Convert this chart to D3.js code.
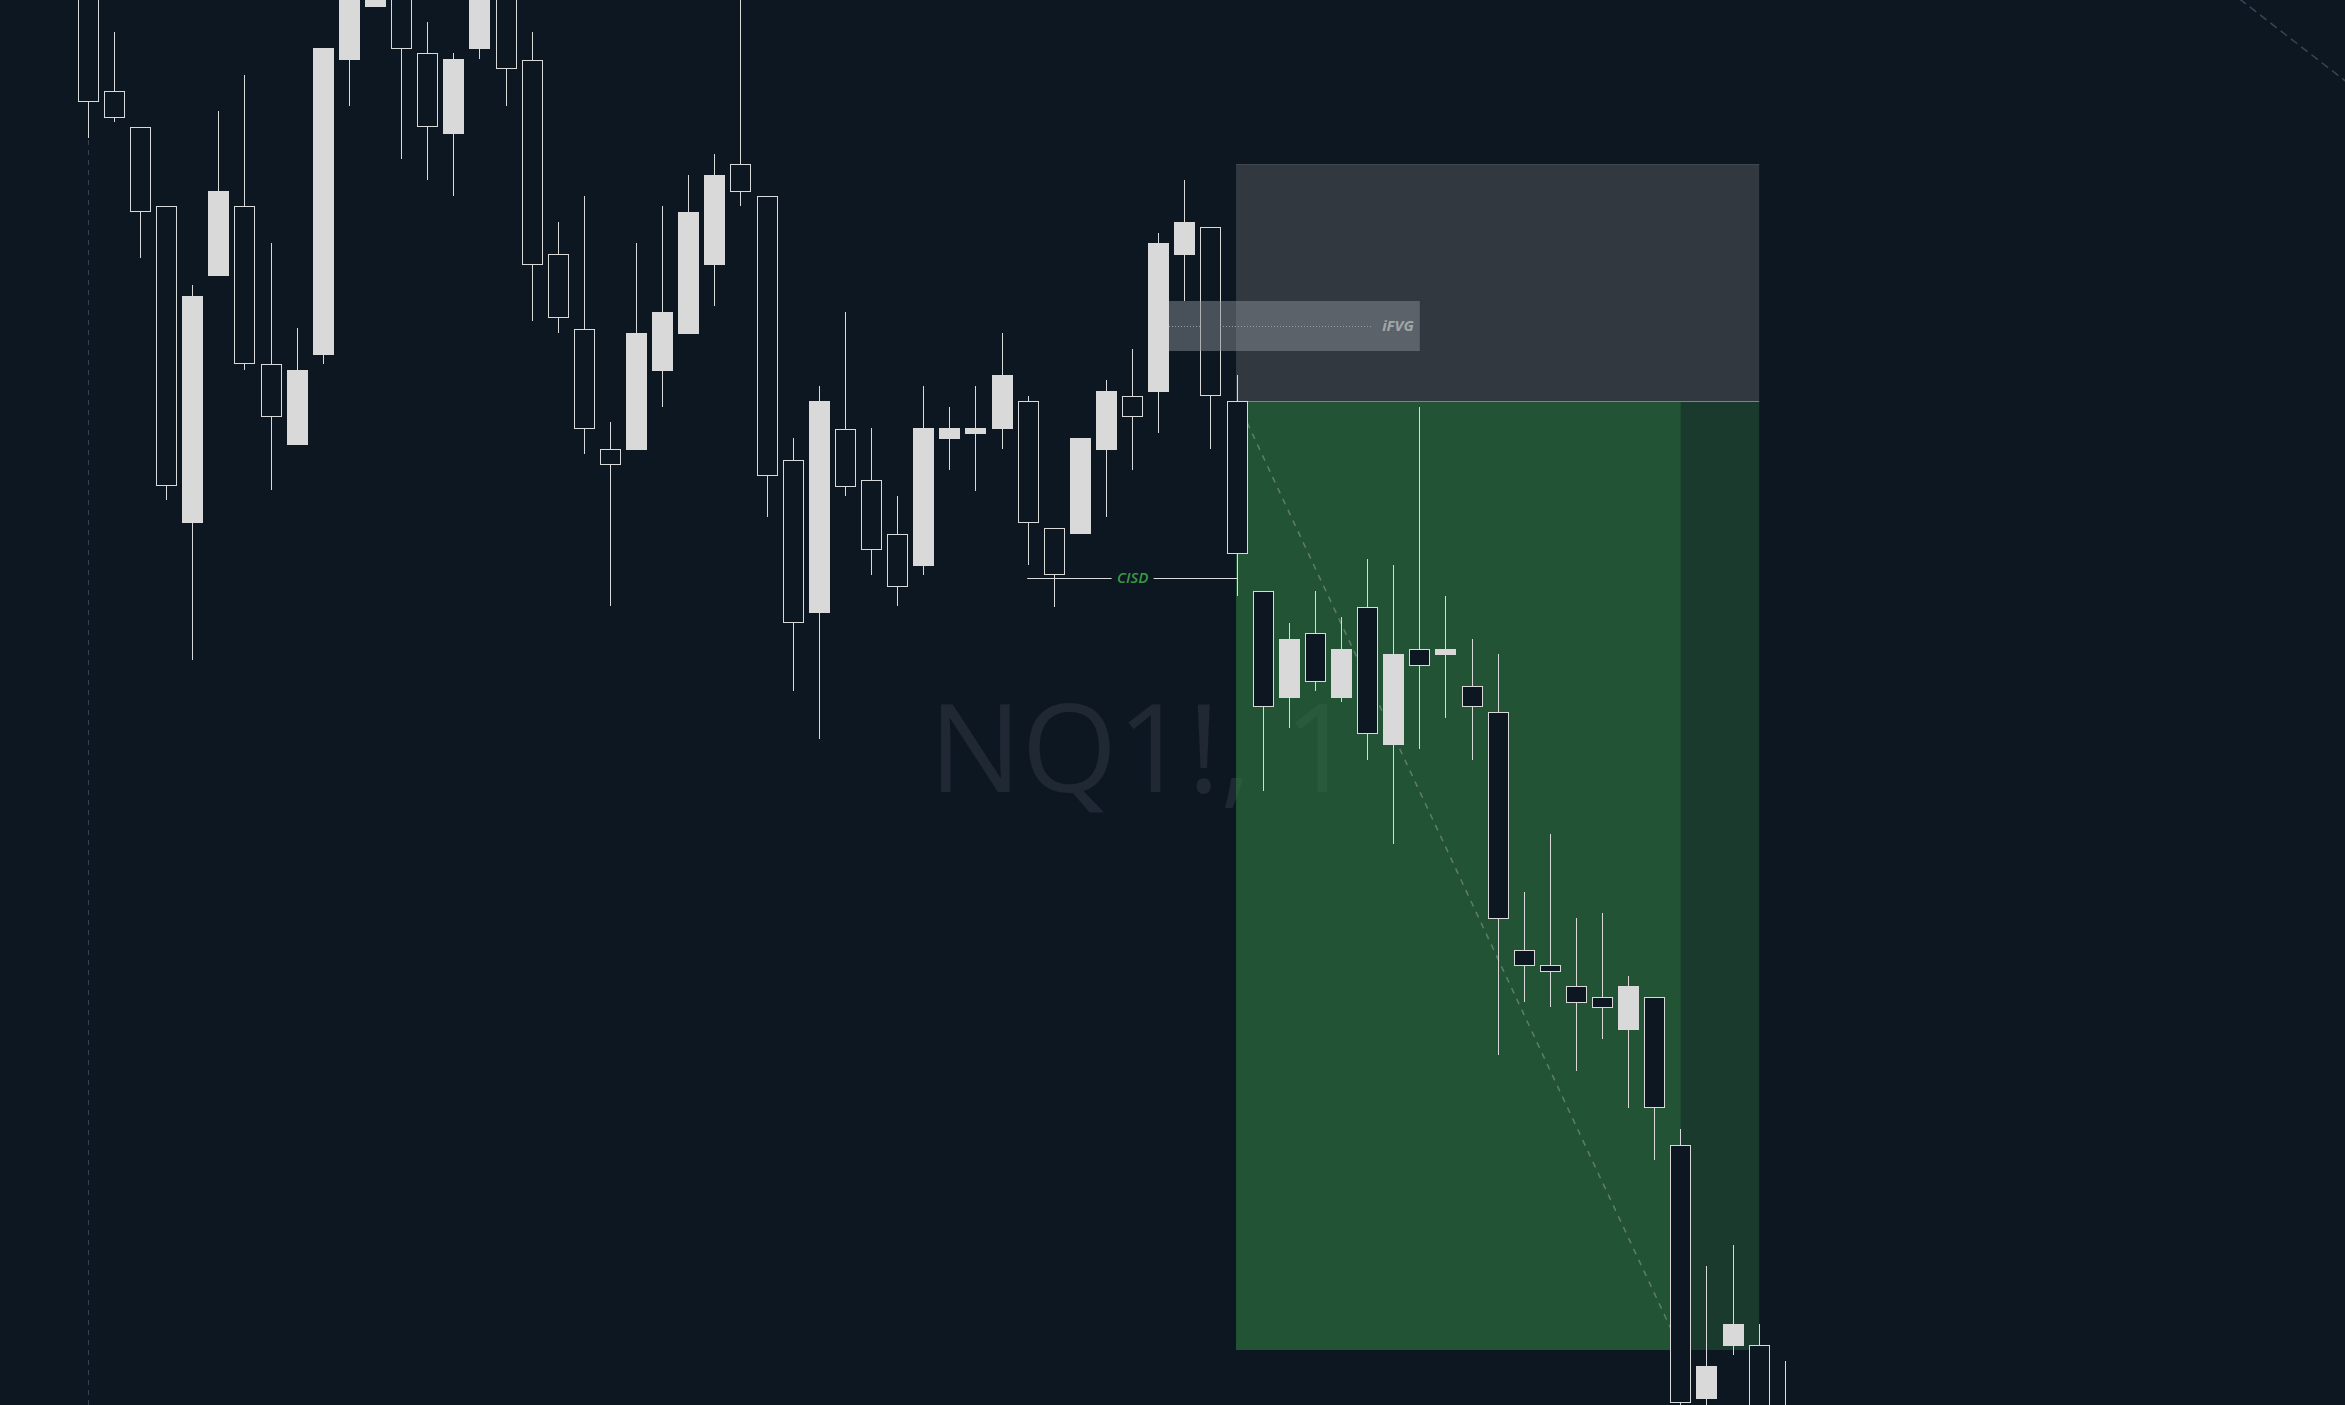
<!DOCTYPE html>
<html>
<head>
<meta charset="utf-8">
<script src="https://cdn.jsdelivr.net/npm/d3@7"></script>
<style>
  html, body { margin: 0; padding: 0; background: #0c1722; overflow: hidden; }
  svg { display: block; }
</style>
</head>
<body>
<div id="chart"></div>
<script>
// ---------------- DATA ----------------
const symbolLabel = "NQ1!, 1";
const barIndex = d3.range(66);
const opens = [21505, 21477.25, 21468.25, 21448.5, 21369.25, 21431, 21448.5, 21409, 21388.75, 21411.25,
  21485, 21498.25, 21505, 21486.75, 21466.5, 21487.75, 21502.5, 21485, 21436.5, 21417.75,
  21387.75, 21387.5, 21407.25, 21416.5, 21433.75, 21459, 21451, 21385, 21346.75, 21392.75,
  21380, 21366.5, 21358.5, 21390.25, 21391.5, 21392.75, 21399.75, 21368, 21366.5, 21387.5,
  21401, 21402, 21436.25, 21443.25, 21399.75, 21352.25, 21325.5, 21341.75, 21325.5, 21348.25,
  21313.75, 21337.75, 21336.25, 21328.5, 21322, 21262.5, 21258.75, 21253.5, 21250.75, 21242.5,
  21250.75, 21213.75, 21150.25, 21163.5, 21163.75, 21146.25];
const highs = [21510, 21492, 21468.25, 21448.5, 21428.75, 21472.25, 21481.25, 21439.25, 21418, 21488,
  21510, 21512.5, 21507.5, 21494.5, 21486.75, 21507.5, 21505, 21492, 21444.5, 21451,
  21394.5, 21439.25, 21448.5, 21456.25, 21461.5, 21502.5, 21451, 21390.5, 21403.5, 21422,
  21393, 21376, 21403.5, 21398.25, 21403.5, 21416.75, 21401, 21368, 21390.5, 21405,
  21412.75, 21441.75, 21455, 21443.25, 21406.25, 21352.25, 21344.25, 21352.25, 21345.75, 21360.25,
  21358.75, 21398.25, 21351, 21340.25, 21336.5, 21277, 21291.5, 21270.5, 21271.75, 21256,
  21250.75, 21217.75, 21183.5, 21188.75, 21169, 21159.75];
const lows = [21465.5, 21469.5, 21435.5, 21375, 21335, 21431, 21407.5, 21377.5, 21388.75, 21409,
  21473.5, 21498.25, 21460.25, 21455, 21451, 21485.25, 21473.5, 21419.75, 21416.75, 21386.5,
  21348.5, 21387.5, 21398.25, 21416.5, 21423.5, 21448.5, 21370.75, 21327.25, 21315.25, 21376,
  21356.25, 21348.5, 21356.25, 21382.5, 21377.25, 21387.75, 21358.75, 21348.25, 21366.5, 21370.75,
  21382.5, 21391.75, 21424.75, 21387.75, 21351, 21302.25, 21318, 21327.25, 21324.5, 21310,
  21289, 21312.75, 21320.5, 21310, 21236.25, 21249.5, 21248.25, 21232.25, 21240.25, 21223,
  21210, 21145, 21145, 21161.25, 21140, 21140];
const closes = [21474.5, 21470.5, 21447, 21378.5, 21426, 21452.25, 21409, 21395.75, 21407.5, 21488,
  21507.5, 21510, 21487.75, 21468.25, 21485.25, 21505, 21482.75, 21433.75, 21420.5, 21392.75,
  21383.75, 21416.75, 21422, 21447, 21456.25, 21452, 21381, 21344.25, 21399.75, 21378.25,
  21362.5, 21353.25, 21393, 21393, 21393, 21406.25, 21369.25, 21356.25, 21390.5, 21402.25,
  21395.75, 21439.25, 21444.5, 21401, 21361.5, 21323.25, 21340.25, 21329.5, 21337.75, 21316.5,
  21336.5, 21333.5, 21337.75, 21323.25, 21270.25, 21258.5, 21257, 21249.25, 21248, 21253.5,
  21223, 21149.25, 21158.5, 21169, 21143.75, 21142.5];

// position tool (short)
const positionStartBar = 44, positionEndBar = 64, targetShadeStartBar = 61;
const stopPrice = 21459, entryPrice = 21399.75, targetPrice = 21162.5;
// iFVG zone
const ifvgStartBar = 41, ifvgEndBar = 51;
const ifvgTop = 21424.75, ifvgBottom = 21412.25, ifvgMid = 21418.5;
const ifvgLabel = "iFVG";
// CISD level
const cisdStartBar = 36, cisdEndBar = 44, cisdLabelBar = 40, cisdPrice = 21355.5;
const cisdLabel = "CISD";
// session break & trend line
const sessionBreakBar = 0;
const trendLine = [[82.4, 21500.25], [86.5, 21479.5]];

// ---------------- DRAW ----------------
const W = 2345, H = 1405;
const BG = "#0c1722", CANDLE = "#d9d9d9";
const svg = d3.select("#chart").append("svg").attr("width", W).attr("height", H);
svg.append("rect").attr("width", W).attr("height", H).attr("fill", BG);

const x = d3.scaleLinear().domain([0, 65]).range([88.3, 1785.3]);
const y = d3.scaleLinear().domain([21500, 21148.75]).range([0, 1405]);

// watermark
svg.append("text")
  .attr("x", 929).attr("y", 792)
  .attr("font-family", "'Open Sans', 'Noto Sans', sans-serif")
  .attr("font-size", 123)
  .attr("fill", "#1f2833")
  .text(symbolLabel);

// session break
svg.append("line")
  .attr("x1", Math.floor(x(sessionBreakBar)) + 0.5).attr("x2", Math.floor(x(sessionBreakBar)) + 0.5)
  .attr("y1", 0).attr("y2", H)
  .attr("stroke", "#34414f").attr("stroke-width", 1).attr("stroke-dasharray", "5,5");

// trend line top-right
svg.append("line")
  .attr("x1", x(trendLine[0][0])).attr("y1", y(trendLine[0][1]))
  .attr("x2", x(trendLine[1][0])).attr("y2", y(trendLine[1][1]))
  .attr("stroke", "#3b4451").attr("stroke-width", 1.5).attr("stroke-dasharray", "8,5");

// position zones
const px0 = x(positionStartBar) - 1, px1 = x(positionEndBar), pxS = x(targetShadeStartBar);
svg.append("rect")
  .attr("x", px0).attr("y", y(stopPrice)).attr("width", px1 - px0).attr("height", y(entryPrice) - y(stopPrice))
  .attr("fill", "#323840");
svg.append("line")
  .attr("x1", px0).attr("x2", px1).attr("y1", Math.round(y(stopPrice)) + 0.5).attr("y2", Math.round(y(stopPrice)) + 0.5)
  .attr("stroke", "#41464d").attr("stroke-width", 1);
svg.append("rect")
  .attr("x", px0).attr("y", y(entryPrice)).attr("width", pxS - px0).attr("height", y(targetPrice) - y(entryPrice))
  .attr("fill", "rgb(49,121,65)").attr("fill-opacity", 0.62);
svg.append("rect")
  .attr("x", pxS).attr("y", y(entryPrice)).attr("width", px1 - pxS).attr("height", y(targetPrice) - y(entryPrice))
  .attr("fill", "rgb(36,80,53)").attr("fill-opacity", 0.62);
svg.append("line")
  .attr("x1", px0).attr("x2", px1).attr("y1", Math.round(y(entryPrice)) + 0.5).attr("y2", Math.round(y(entryPrice)) + 0.5)
  .attr("stroke", "#7e8286").attr("stroke-width", 1);

// diagonal dashed (entry -> target)
svg.append("line")
  .attr("x1", x(positionStartBar)).attr("y1", y(entryPrice))
  .attr("x2", x(targetShadeStartBar)).attr("y2", y(targetPrice))
  .attr("stroke", "#8c9892").attr("stroke-opacity", 0.6).attr("stroke-width", 1.5).attr("stroke-dasharray", "6,6");

// iFVG midline (under candles)
const fx0 = Math.floor(x(ifvgStartBar)) + 11, fx1 = x(ifvgEndBar);
svg.append("line")
  .attr("x1", fx0).attr("x2", fx1 - 48)
  .attr("y1", Math.round(y(ifvgMid)) + 0.5).attr("y2", Math.round(y(ifvgMid)) + 0.5)
  .attr("stroke", "#aab0b5").attr("stroke-width", 1).attr("stroke-dasharray", "1,2");

// CISD line
const cx0 = x(cisdStartBar) - 1, cx1 = x(cisdEndBar), cxm = x(cisdLabelBar), cy = Math.round(y(cisdPrice)) + 0.5;
svg.append("line").attr("x1", cx0).attr("x2", cxm - 21).attr("y1", cy).attr("y2", cy)
  .attr("stroke", CANDLE).attr("stroke-width", 1);
svg.append("line").attr("x1", cxm + 21).attr("x2", cx1).attr("y1", cy).attr("y2", cy)
  .attr("stroke", CANDLE).attr("stroke-width", 1);
svg.append("text")
  .attr("x", cxm).attr("y", cy + 4)
  .attr("text-anchor", "middle")
  .attr("font-family", "'Open Sans', 'Noto Sans', sans-serif")
  .attr("font-size", 15).attr("font-style", "italic").attr("font-weight", 600)
  .attr("fill", "#3b9a43")
  .text(cisdLabel);

// candles
const candles = barIndex.map(i => ({ i, o: opens[i], h: highs[i], l: lows[i], c: closes[i] }));
const g = svg.append("g");
const cg = g.selectAll("g.candle").data(candles).join("g").attr("class", "candle");
cg.append("line")
  .attr("x1", d => Math.floor(x(d.i)) + 0.5).attr("x2", d => Math.floor(x(d.i)) + 0.5)
  .attr("y1", d => Math.round(y(d.h))).attr("y2", d => Math.round(y(d.l)))
  .attr("stroke", CANDLE).attr("stroke-width", 1);
cg.append("rect")
  .attr("x", d => Math.floor(x(d.i)) - 9.5)
  .attr("width", 20)
  .attr("y", d => Math.round(y(Math.max(d.o, d.c))) + 0.5)
  .attr("height", d => Math.max(1, Math.round(y(Math.min(d.o, d.c))) - Math.round(y(Math.max(d.o, d.c))) - 1))
  .attr("fill", d => d.c >= d.o ? CANDLE : BG)
  .attr("stroke", CANDLE).attr("stroke-width", 1);

// iFVG box (over candles, translucent)
svg.append("rect")
  .attr("x", fx0).attr("y", y(ifvgTop)).attr("width", fx1 - fx0).attr("height", y(ifvgBottom) - y(ifvgTop))
  .attr("fill", "rgb(132,140,146)").attr("fill-opacity", 0.5);
svg.append("text")
  .attr("x", fx1 - 6).attr("y", y(ifvgMid) + 5)
  .attr("text-anchor", "end")
  .attr("font-family", "'Open Sans', 'Noto Sans', sans-serif")
  .attr("font-size", 15).attr("font-style", "italic").attr("font-weight", 700)
  .attr("fill", "#a3a6a9")
  .text(ifvgLabel);
</script>
</body>
</html>
